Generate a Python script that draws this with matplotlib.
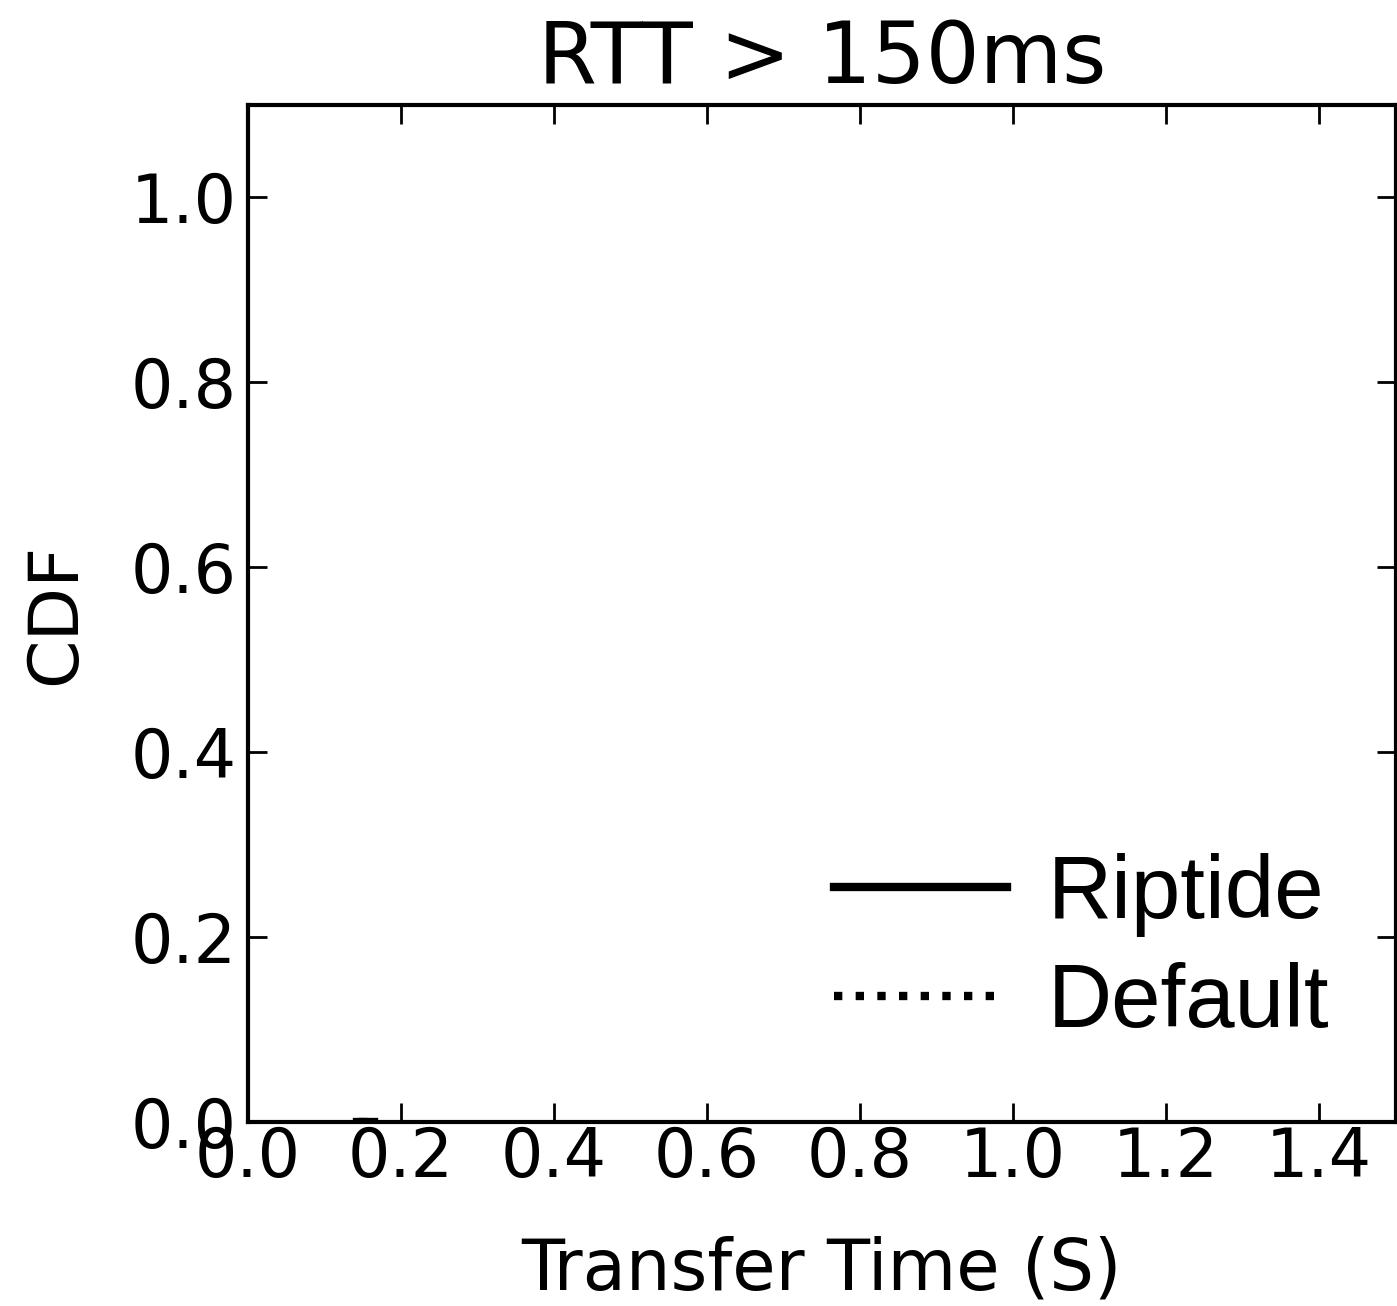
import numpy as np
import matplotlib
matplotlib.use('Agg')
import matplotlib.pyplot as plt

# values (curves barely show: only a stub near 0.15 on the x axis)
riptide_x = [0.142, 0.150, 0.158, 0.165]
riptide_cdf = [0.0, 0.0, 0.0, 0.0]
default_x = [0.145, 0.152, 0.160]
default_cdf = [0.0, 0.0, 0.0]

xticks = [0.0, 0.2, 0.4, 0.6, 0.8, 1.0, 1.2, 1.4]
yticks = [0.0, 0.2, 0.4, 0.6, 0.8, 1.0]

fig = plt.figure(figsize=(13.97 / 2, 13.06 / 2), dpi=200)
ax = fig.add_axes([248 / 1397, (1306 - 1122) / 1306, (1395.5 - 248) / 1397, (1122 - 105) / 1306])

ax.plot(riptide_x, riptide_cdf, color='black', lw=3, ls='-', label='Riptide')
ax.plot(default_x, default_cdf, color='black', lw=3, dashes=(1, 1.6),
        dash_capstyle='butt', label='Default')

ax.set_xlim(0, 1.5)
ax.set_ylim(0, 1.1)
ax.set_xticks(xticks)
ax.set_yticks(yticks)
ax.set_xticklabels(['%.1f' % v for v in xticks])
ax.set_yticklabels(['%.1f' % v for v in yticks])

for s in ax.spines.values():
    s.set_linewidth(1.5)
ax.tick_params(direction='in', length=7, width=1, top=True, right=True,
               labelsize=24)
ax.tick_params(axis='x', pad=1)
ax.tick_params(axis='y', pad=4)

ax.set_title('RTT > 150ms', fontsize=30.5, pad=8)
ax.set_xlabel('Transfer Time (S)', fontsize=25.4, labelpad=16)
ax.set_ylabel('CDF', fontsize=25, labelpad=15)

leg = ax.legend(loc='lower right', frameon=False,
                prop={'family': 'Liberation Sans', 'size': 32},
                handlelength=1.95, handletextpad=0.45, labelspacing=0.28,
                borderaxespad=0.0, bbox_to_anchor=(0.973, 0.04))

fig.savefig('out.png', dpi=200)
